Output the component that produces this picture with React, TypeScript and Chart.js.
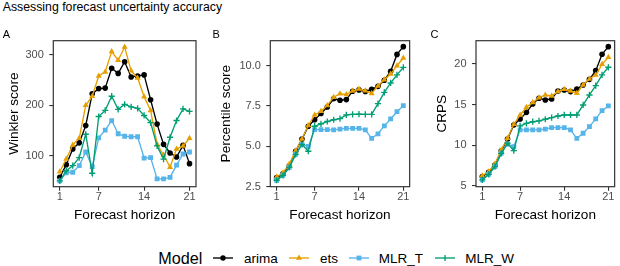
import React, { useEffect, useRef } from "react";
import { Chart, registerables } from "chart.js";

Chart.register(...registerables);

// ---------------- data ----------------
const horizon = [1, 2, 3, 4, 5, 6, 7, 8, 9, 10, 11, 12, 13, 14, 15, 16, 17, 18, 19, 20, 21];
const horizonTicks = [1, 7, 14, 21];

const modelNames = ["arima", "ets", "MLR_T", "MLR_W"];

const winklerArima = [58, 83, 114, 126, 160, 223, 233, 234, 273, 263, 286, 256, 258, 260, 211, 163, 123, 106, 98, 121, 85];
const winklerEts = [69, 94, 122, 135, 200, 218, 258, 266, 306, 289, 315, 268, 254, 217, 190, 123, 102, 78, 114, 120, 135];
const winklerMlrT = [51, 67, 68, 81, 108, 79, 136, 151, 170, 144, 139, 138, 138, 96, 97, 55, 55, 58, 82, 104, 108];
const winklerMlrW = [51, 71, 81, 97, 143, 66, 178, 190, 218, 192, 202, 197, 194, 180, 166, 120, 94, 137, 170, 193, 188];
const winklerTicks = [100, 200, 300];

const percArima = [3.06, 3.3, 3.8, 4.7, 5.45, 6.25, 6.65, 7.04, 7.44, 7.95, 7.86, 7.9, 8.42, 8.5, 8.4, 8.54, 8.72, 9.1, 9.65, 10.7, 11.18];
const percEts = [3.1, 3.37, 3.9, 4.73, 5.46, 6.29, 6.95, 7.17, 7.54, 8.05, 8.26, 8.22, 8.43, 8.55, 8.44, 8.28, 8.74, 9.13, 9.48, 10.0, 10.48];
const percMlrT = [2.9, 3.2, 3.7, 4.5, 5.12, 5.0, 6.04, 6.04, 6.04, 6.02, 6.07, 6.12, 6.12, 6.12, 6.02, 5.5, 5.78, 6.27, 6.7, 7.15, 7.52];
const percMlrW = [2.9, 3.2, 3.7, 4.5, 5.12, 4.7, 6.25, 6.4, 6.54, 6.65, 6.72, 6.95, 6.98, 7.0, 6.98, 6.98, 7.65, 8.35, 8.93, 9.43, 9.9];
const percTicks = [2.5, 5.0, 7.5, 10.0];

const crpsArima = [6.15, 6.68, 7.58, 9.3, 10.78, 12.5, 13.24, 14.05, 15.08, 15.78, 15.57, 15.7, 16.68, 16.8, 16.6, 16.93, 17.42, 18.11, 19.18, 21.19, 22.13];
const crpsEts = [6.27, 6.76, 7.7, 9.43, 10.86, 12.58, 13.73, 14.67, 15.25, 15.86, 16.19, 16.07, 16.6, 16.89, 16.68, 16.4, 17.42, 18.16, 18.65, 19.96, 20.82];
const crpsMlrT = [5.74, 6.43, 7.38, 9.0, 10.16, 9.84, 11.89, 11.89, 11.89, 11.89, 12.0, 12.17, 12.17, 12.17, 11.89, 10.86, 11.48, 12.3, 13.24, 14.26, 14.84];
const crpsMlrW = [5.74, 6.43, 7.38, 9.0, 10.25, 9.34, 12.38, 12.7, 12.9, 13.0, 13.2, 13.4, 13.6, 13.73, 13.73, 13.73, 14.96, 16.19, 17.34, 18.65, 19.59];
const crpsTicks = [5, 10, 15, 20];

// ---------------- styles ----------------
const FONT = '"Liberation Sans", Arial, Helvetica, sans-serif';

const modelStyles = [
  { color: "#000000", pointStyle: "circle", radius: 2.8 },
  { color: "#E69F00", pointStyle: "triangle", radius: 3.5 },
  { color: "#56B4E9", pointStyle: "rect", radius: 3.4 },
  { color: "#009E73", pointStyle: "cross", radius: 3.1 },
];

type Panel = {
  tag: string;
  tagLeft: number;
  yTitle: string;
  series: number[][];
  yTicks: number[];
  decimals: number;
  min: number;
  max: number;
  left: number;
  width: number;
  yWidth: number;
  padRight: number;
  titlePad: number;
};

const panels: Panel[] = [
  {
    tag: "A", tagLeft: 2.7, yTitle: "Winkler score",
    series: [winklerArima, winklerEts, winklerMlrT, winklerMlrW],
    yTicks: winklerTicks, decimals: 0, min: 39.5, max: 327.5,
    left: 0, width: 205, yWidth: 53.3, padRight: 9, titlePad: 6.4,
  },
  {
    tag: "B", tagLeft: 212.5, yTitle: "Percentile score",
    series: [percArima, percEts, percMlrT, percMlrW],
    yTicks: percTicks, decimals: 1, min: 2.5, max: 11.55,
    left: 205, width: 210, yWidth: 65.3, padRight: 2.3, titlePad: 13.1,
  },
  {
    tag: "C", tagLeft: 430.5, yTitle: "CRPS",
    series: [crpsArima, crpsEts, crpsMlrT, crpsMlrW],
    yTicks: crpsTicks, decimals: 0, min: 4.91, max: 22.86,
    left: 415, width: 205, yWidth: 61, padRight: 0.7, titlePad: 19.3,
  },
];

const CANVAS_H = 230;
const PLOT_TOP = 40.7;
const X_AXIS_H = 43.3;

const borderPlugin = {
  id: "panelBorder",
  afterDraw(chart: any) {
    const { ctx, chartArea } = chart;
    const { left, top, right, bottom } = chartArea;
    ctx.save();
    ctx.strokeStyle = "#333333";
    ctx.lineWidth = 1.2;
    ctx.strokeRect(left, top, right - left, bottom - top);
    ctx.restore();
  },
};

function PanelChart({ p }: { p: Panel }) {
  const ref = useRef<HTMLCanvasElement | null>(null);
  useEffect(() => {
    if (!ref.current) return;
    const datasets = p.series.map((vals, i) => {
      const st = modelStyles[i];
      return {
        label: modelNames[i],
        data: horizon.map((h, k) => ({ x: h, y: vals[k] })),
        borderColor: st.color,
        backgroundColor: st.color,
        borderWidth: 1.35,
        pointStyle: st.pointStyle as any,
        pointRadius: st.radius,
        pointBorderWidth: st.pointStyle === "cross" ? 1.35 : 0,
        pointBorderColor: st.color,
        pointBackgroundColor: st.color,
        tension: 0,
        order: 3 - i,
      };
    });
    const gridOpts = {
      drawOnChartArea: false,
      drawTicks: true,
      tickLength: 4,
      color: "#333333",
      lineWidth: 1.1,
    };
    const chart = new Chart(ref.current, {
      type: "line",
      data: { datasets },
      plugins: [borderPlugin],
      options: {
        animation: false,
        responsive: false,
        devicePixelRatio: 1,
        layout: { padding: { top: PLOT_TOP, right: p.padRight, left: 0, bottom: 0 } },
        plugins: { legend: { display: false }, tooltip: { enabled: false } },
        scales: {
          x: {
            type: "linear",
            min: 0,
            max: 22,
            afterBuildTicks: (s: any) => {
              s.ticks = horizonTicks.map((v) => ({ value: v }));
            },
            afterFit: (s: any) => {
              s.height = X_AXIS_H;
            },
            grid: gridOpts,
            border: { display: false },
            ticks: {
              font: { size: 11, family: FONT },
              color: "#4D4D4D",
              padding: 0,
              autoSkip: false,
              maxRotation: 0,
              callback: (v: any) => String(v),
            },
            title: {
              display: true,
              text: "Forecast horizon",
              color: "#000000",
              font: { size: 13.6, family: FONT },
              padding: { top: 0, bottom: 7 },
            },
          },
          y: {
            type: "linear",
            min: p.min,
            max: p.max,
            afterBuildTicks: (s: any) => {
              s.ticks = p.yTicks.map((v) => ({ value: v }));
            },
            afterFit: (s: any) => {
              s.width = p.yWidth;
            },
            grid: gridOpts,
            border: { display: false },
            ticks: {
              font: { size: 11, family: FONT },
              color: "#4D4D4D",
              padding: 5.5,
              autoSkip: false,
              callback: (v: any) => Number(v).toFixed(p.decimals),
            },
            title: {
              display: true,
              text: p.yTitle,
              color: "#000000",
              font: { size: 13.6, family: FONT },
              padding: { top: p.titlePad, bottom: 0 },
            },
          },
        },
      } as any,
    });
    return () => chart.destroy();
  }, [p]);
  return (
    <canvas
      ref={ref}
      width={p.width}
      height={CANVAS_H}
      style={{ position: "absolute", left: p.left, top: 0, width: p.width, height: CANVAS_H, display: "block" }}
    />
  );
}

function LegendIcon({ i }: { i: number }) {
  const st = modelStyles[i];
  const c = st.color;
  let marker: React.ReactNode = null;
  if (st.pointStyle === "circle") marker = <circle cx={10} cy={5} r={2.7} fill={c} />;
  else if (st.pointStyle === "triangle")
    marker = <polygon points="10,1.6 13,6.8 7,6.8" fill={c} />;
  else if (st.pointStyle === "rect") marker = <rect x={7.6} y={2.6} width={4.8} height={4.8} fill={c} />;
  else
    marker = (
      <g stroke={c} strokeWidth={1.35}>
        <line x1={10} y1={1.9} x2={10} y2={8.1} />
      </g>
    );
  return (
    <svg width={20} height={10} style={{ position: "absolute", left: 0, top: 0 }}>
      <line x1={0} y1={5} x2={20} y2={5} stroke={c} strokeWidth={1.35} />
      {marker}
    </svg>
  );
}

const legendIconLeft = [213.3, 289.3, 349, 435];
const legendTextLeft = [244, 320, 378.7, 465.3];

export default function App() {
  return (
    <div
      style={{
        position: "fixed",
        left: 0,
        top: 0,
        width: 620,
        height: 266,
        background: "#ffffff",
        overflow: "hidden",
        fontFamily: FONT,
      }}
    >
      <div style={{ position: "absolute", left: 2.7, top: 1.3, fontSize: 12.3, lineHeight: 1, color: "#000", whiteSpace: "nowrap" }}>
        Assessing forecast uncertainty accuracy
      </div>
      {panels.map((p) => (
        <PanelChart key={p.tag} p={p} />
      ))}
      {panels.map((p) => (
        <div
          key={"tag" + p.tag}
          style={{ position: "absolute", left: p.tagLeft, top: 29, fontSize: 11, lineHeight: 1, color: "#000" }}
        >
          {p.tag}
        </div>
      ))}
      <div style={{ position: "absolute", left: 158.3, top: 249.6, fontSize: 16.2, lineHeight: 1, color: "#000" }}>Model</div>
      {modelNames.map((n, i) => (
        <React.Fragment key={n}>
          <div style={{ position: "absolute", left: legendIconLeft[i], top: 252.7, width: 20, height: 10 }}>
            <LegendIcon i={i} />
          </div>
          <div
            style={{ position: "absolute", left: legendTextLeft[i], top: 251.9, fontSize: 13.5, lineHeight: 1, color: "#000", whiteSpace: "nowrap" }}
          >
            {n}
          </div>
        </React.Fragment>
      ))}
    </div>
  );
}
